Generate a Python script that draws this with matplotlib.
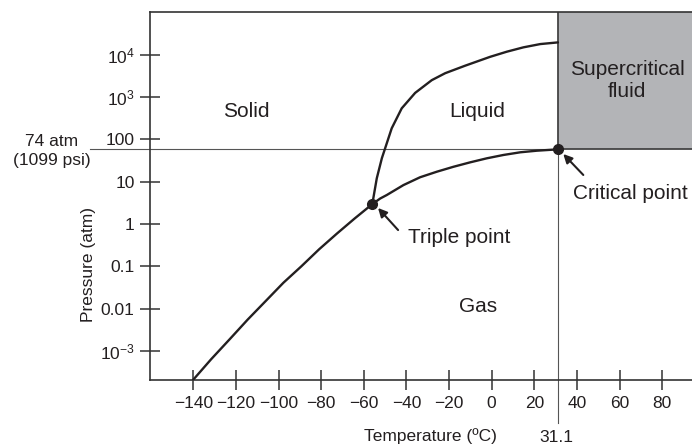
import matplotlib
matplotlib.use("Agg")
import matplotlib.pyplot as plt
from matplotlib.patches import Rectangle

plt.rcParams['font.family'] = ['Liberation Sans', 'DejaVu Sans']
plt.rcParams['mathtext.fontset'] = 'custom'
plt.rcParams['mathtext.rm'] = 'Liberation Sans'
plt.rcParams['mathtext.it'] = 'Liberation Sans'

# phase boundaries (temperature in C, pressure in atm)
triple_T, triple_P = -56.0, 2.95
crit_T, crit_P = 31.1, 58.0

sub_T = [-140, -131.6, -122.9, -114.5, -106.1, -97.7, -89.3, -80.9, -72.5, -64.2, triple_T]
sub_P = [2.1e-4, 6.4e-4, 1.9e-3, 5.5e-3, 0.015, 0.041, 0.10, 0.254, 0.60, 1.36, triple_P]

melt_T = [triple_T, -53.9, -51.5, -50.0, -46.9, -42.2, -35.9, -28.1, -21.8,
          -12.4, -0.7, 7.1, 14.9, 22.8, crit_T]
melt_P = [triple_P, 12, 36, 61, 182, 540, 1250, 2500, 3650,
          5500, 8900, 11750, 14900, 17800, 19500]

vap_T = [triple_T, -52.3, -49.2, -41.4, -33.6, -25.7, -17.9, -10.1, -2.3,
         5.5, 13.4, 21.2, crit_T]
vap_P = [triple_P, 4.0, 4.84, 8.3, 12.7, 17.2, 22.5, 28.6, 35.6,
         42.7, 49.4, 53.9, crit_P]

x_ticks = [-140, -120, -100, -80, -60, -40, -20, 0, 20, 40, 60, 80]
y_ticks = [1e-3, 1e-2, 1e-1, 1, 10, 100, 1e3, 1e4]
y_labels = ['$10^{\u22123}$', '0.01', '0.1', '1', '10', '100', '$10^3$', '$10^4$']

ink = '#231f20'
W, H = 692, 446

fig = plt.figure(figsize=(W / 100, H / 100), dpi=100)
ax = fig.add_axes([150 / W, 66 / H, 542 / W, 368 / H])
ax.set_yscale('log')
ax.set_xlim(-160.3, 94.0)
ax.set_ylim(10 ** -3.685, 10 ** 5.008)

# supercritical region
ax.add_patch(Rectangle((crit_T, crit_P), 200, 1e7, facecolor='#b3b4b7',
                       edgecolor='#444444', lw=1.3, zorder=1))

# guide lines through the critical point
ax.plot([-188.5, crit_T], [crit_P, crit_P], color='#555555', lw=0.8,
        clip_on=False, zorder=2)
ax.plot([crit_T, crit_T], [crit_P, 2.0e-5], color='#555555', lw=0.8,
        clip_on=False, zorder=2)

for T, P in [(sub_T, sub_P), (melt_T, melt_P), (vap_T, vap_P)]:
    ax.plot(T, P, color=ink, lw=1.7, solid_capstyle='round',
            solid_joinstyle='round', zorder=3)

ax.plot([triple_T, crit_T], [triple_P, crit_P], 'o', color=ink, ms=7, zorder=4)

# region labels
big = 15
ax.text(-115.3, 445, 'Solid', fontsize=big, color=ink, ha='center', va='center')
ax.text(-6.8, 445, 'Liquid', fontsize=big, color=ink, ha='center', va='center')
ax.text(-6.3, 0.011, 'Gas', fontsize=big, color=ink, ha='center', va='center')
ax.text(63.6, 2450, 'Supercritical\nfluid', fontsize=big, color=ink,
        ha='center', va='center', linespacing=1.15)

arrow = dict(arrowstyle='-|>', color=ink, lw=1.5, mutation_scale=13,
             shrinkA=0, shrinkB=0)
ax.annotate('', xy=(-53.3, 2.39), xytext=(-43.9, 0.72), arrowprops=arrow)
ax.text(-15.0, 0.48, 'Triple point', fontsize=big, color=ink, ha='center', va='center')
ax.annotate('', xy=(33.6, 45), xytext=(43.0, 14.4), arrowprops=arrow)
ax.text(65.0, 5.2, 'Critical point', fontsize=big, color=ink, ha='center', va='center')

# axes styling
ax.set_xticks(x_ticks)
ax.set_xticklabels([str(t).replace('-', '\u2212') for t in x_ticks])
ax.set_yticks(y_ticks)
ax.set_yticklabels(y_labels)
ax.minorticks_off()
ax.tick_params(direction='inout', length=14, width=1.1, color='#333333',
               labelsize=12.5, labelcolor=ink)
ax.tick_params(axis='x', pad=4.5)
ax.tick_params(axis='y', pad=4)
for side in ['left', 'bottom', 'top']:
    ax.spines[side].set_color('#333333')
    ax.spines[side].set_linewidth(1.2)
ax.spines['right'].set_visible(False)

fig.text(430 / W, 1 - 436 / H, 'Temperature (\u00baC)', fontsize=12.5,
         color=ink, ha='center', va='center')
fig.text(556 / W, 1 - 438 / H, '31.1', fontsize=12.5, color=ink,
         ha='center', va='center')
fig.text(88 / W, 1 - 264 / H, 'Pressure (atm)', fontsize=12.5, color=ink,
         ha='center', va='center', rotation=90)
fig.text(52 / W, 1 - 151 / H, '74 atm\n(1099 psi)', fontsize=12.5, color=ink,
         ha='center', va='center', linespacing=1.25)

fig.savefig('out.png', dpi=100)
